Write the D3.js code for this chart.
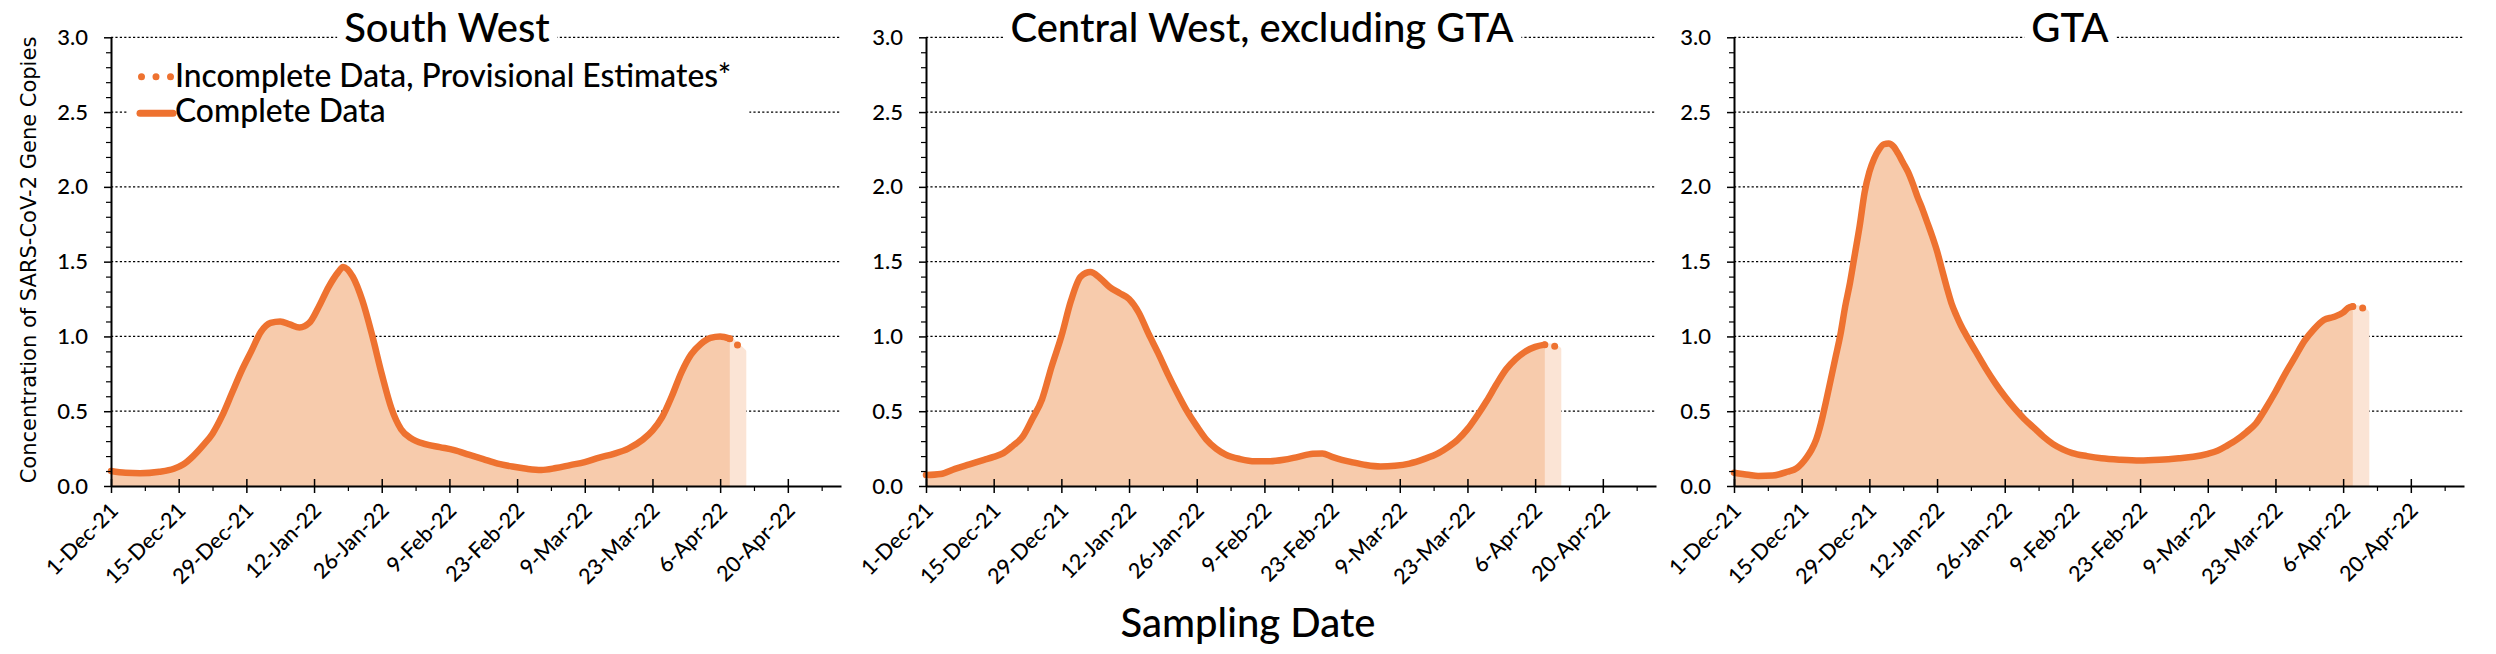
<!DOCTYPE html>
<html><head><meta charset="utf-8">
<script src="https://cdn.jsdelivr.net/npm/d3@7"></script>
<style>body{margin:0;background:#fff}</style>
</head><body>
<svg id="c" width="2496" height="654"></svg>
<script>
// ---------------- DATA ----------------
const regionNames = ["South West", "Central West, excluding GTA", "GTA"];
const xDomain = ["2021-12-01", "2022-05-01"];
const xTickLabels = ["1-Dec-21","15-Dec-21","29-Dec-21","12-Jan-22","26-Jan-22","9-Feb-22","23-Feb-22","9-Mar-22","23-Mar-22","6-Apr-22","20-Apr-22"];
const yTickLabels = ["0.0","0.5","1.0","1.5","2.0","2.5","3.0"];
const yMinorStep = 0.1;

const swDates = ["2021-12-01","2021-12-04","2021-12-07","2021-12-11","2021-12-14","2021-12-16","2021-12-18","2021-12-20","2021-12-22","2021-12-24","2021-12-26","2021-12-28","2021-12-30",
 "2022-01-01","2022-01-03","2022-01-05","2022-01-07","2022-01-09","2022-01-11","2022-01-13","2022-01-15","2022-01-17","2022-01-18","2022-01-20","2022-01-22","2022-01-24","2022-01-26","2022-01-28","2022-01-30",
 "2022-02-01","2022-02-04","2022-02-07","2022-02-10","2022-02-13","2022-02-16","2022-02-19","2022-02-22","2022-02-25","2022-02-28",
 "2022-03-03","2022-03-06","2022-03-09","2022-03-12","2022-03-15","2022-03-18","2022-03-21","2022-03-23","2022-03-25","2022-03-27","2022-03-29","2022-03-31",
 "2022-04-02","2022-04-04","2022-04-06","2022-04-08"];
const swValues = [0.10,0.088,0.085,0.095,0.115,0.145,0.20,0.27,0.35,0.47,0.62,0.77,0.90,
 1.03,1.09,1.10,1.08,1.06,1.09,1.20,1.33,1.43,1.465,1.40,1.24,1.01,0.75,0.52,0.38,
 0.32,0.28,0.26,0.24,0.21,0.18,0.15,0.13,0.115,0.107,
 0.12,0.14,0.16,0.19,0.215,0.25,0.31,0.37,0.46,0.60,0.76,0.88,
 0.95,0.99,1.00,0.985];

const cwDates = ["2021-12-01","2021-12-04","2021-12-07","2021-12-10","2021-12-13","2021-12-15","2021-12-17","2021-12-19","2021-12-21","2021-12-23","2021-12-25","2021-12-27","2021-12-29","2021-12-31",
 "2022-01-02","2022-01-04","2022-01-06","2022-01-08","2022-01-10","2022-01-12","2022-01-14","2022-01-16","2022-01-18","2022-01-20","2022-01-22","2022-01-24","2022-01-26","2022-01-28","2022-01-30",
 "2022-02-01","2022-02-04","2022-02-07","2022-02-10","2022-02-13","2022-02-16","2022-02-19","2022-02-21","2022-02-23","2022-02-25","2022-02-27",
 "2022-03-02","2022-03-05","2022-03-08","2022-03-11","2022-03-14","2022-03-17","2022-03-19","2022-03-21","2022-03-23","2022-03-25","2022-03-27","2022-03-29","2022-03-31",
 "2022-04-02","2022-04-04","2022-04-06","2022-04-08"];
const cwValues = [0.073,0.08,0.115,0.145,0.175,0.195,0.22,0.27,0.33,0.45,0.58,0.80,1.00,1.24,
 1.40,1.43,1.39,1.33,1.29,1.25,1.16,1.02,0.89,0.75,0.62,0.50,0.40,0.31,0.25,
 0.21,0.18,0.165,0.165,0.175,0.195,0.215,0.218,0.195,0.175,0.16,
 0.14,0.13,0.135,0.15,0.18,0.22,0.26,0.31,0.38,0.47,0.57,0.68,0.78,
 0.85,0.90,0.93,0.945];

const gtaDates = ["2021-12-01","2021-12-04","2021-12-06","2021-12-09","2021-12-12","2021-12-14","2021-12-16","2021-12-17","2021-12-18","2021-12-19","2021-12-20","2021-12-21","2021-12-22","2021-12-23","2021-12-24","2021-12-25","2021-12-26","2021-12-27","2021-12-28","2021-12-29","2021-12-30","2021-12-31",
 "2022-01-01","2022-01-02","2022-01-03","2022-01-04","2022-01-05","2022-01-06","2022-01-07","2022-01-08","2022-01-09","2022-01-10","2022-01-11","2022-01-12","2022-01-13","2022-01-14","2022-01-15","2022-01-16","2022-01-17","2022-01-18","2022-01-20","2022-01-22","2022-01-24","2022-01-26","2022-01-28","2022-01-30",
 "2022-02-01","2022-02-03","2022-02-05","2022-02-07","2022-02-09","2022-02-12","2022-02-15","2022-02-19","2022-02-23","2022-02-27",
 "2022-03-03","2022-03-06","2022-03-09","2022-03-11","2022-03-13","2022-03-15","2022-03-17","2022-03-19","2022-03-21","2022-03-23","2022-03-25","2022-03-27","2022-03-29","2022-03-31",
 "2022-04-02","2022-04-04","2022-04-06","2022-04-07","2022-04-08"];
const gtaValues = [0.089,0.075,0.067,0.07,0.095,0.12,0.19,0.24,0.31,0.42,0.56,0.71,0.86,1.01,1.20,1.36,1.55,1.74,1.96,2.10,2.19,2.25,
 2.285,2.29,2.27,2.22,2.16,2.10,2.02,1.93,1.85,1.76,1.67,1.57,1.45,1.33,1.22,1.14,1.07,1.01,0.90,0.79,0.69,0.60,0.52,0.45,
 0.39,0.33,0.28,0.245,0.22,0.20,0.185,0.175,0.17,0.175,
 0.185,0.195,0.215,0.235,0.27,0.31,0.36,0.42,0.52,0.63,0.75,0.86,0.97,1.05,
 1.11,1.13,1.16,1.19,1.20];

const incDates = ["2022-04-08","2022-04-09","2022-04-10","2022-04-11"];
const swInc = [0.985,0.96,0.93,0.90];
const cwInc = [0.945,0.94,0.935,0.915];
const gtaInc = [1.20,1.195,1.19,1.16];

const legendLabels = ["Incomplete Data, Provisional Estimates*", "Complete Data"];
const yAxisTitle = "Concentration of SARS-CoV-2 Gene Copies";
const xAxisTitle = "Sampling Date";

// ---------------- DRAWING ----------------
const parse = d3.timeParse("%Y-%m-%d");
const tickParse = d3.timeParse("%d-%b-%y");
const svg = d3.select("#c");
svg.append("rect").attr("width", 2496).attr("height", 654).attr("fill", "#fff");

const FONT = "Lato, Carlito, sans-serif";
const LINE = "#EE7230", FILL = "#F7CBAC", LIGHT = "#FBE4D5";
const panelLeft = [111, 926, 1734];
const plotW = 730, yTop = 37.3, yBot = 486;

const regions = [
  {name: regionNames[0], dates: swDates, values: swValues, inc: swInc},
  {name: regionNames[1], dates: cwDates, values: cwValues, inc: cwInc},
  {name: regionNames[2], dates: gtaDates, values: gtaValues, inc: gtaInc}
];

const yMajor = yTickLabels.map(Number);
const yMinor = d3.range(0, 3.0001, yMinorStep).filter(v => Math.abs(v*2 - Math.round(v*2)) > 1e-6);
const majorDates = xTickLabels.map(tickParse);
const minorDates = majorDates.map(d => d3.timeDay.offset(d, 7));

regions.forEach((r, i) => {
  const L = panelLeft[i];
  const x = d3.scaleTime().domain(xDomain.map(parse)).range([L, L + plotW]);
  const y = d3.scaleLinear().domain([0, 3]).range([yBot, yTop]);
  const g = svg.append("g");

  const clipId = "clip" + i;
  svg.append("clipPath").attr("id", clipId).append("rect")
    .attr("x", L - 20).attr("y", 0).attr("width", plotW + 40).attr("height", yBot);

  // gridlines
  g.selectAll("line.grid").data(yMajor.filter(v => v > 0)).join("line")
    .attr("class", "grid")
    .attr("x1", L).attr("x2", L + plotW)
    .attr("y1", d => y(d)).attr("y2", d => y(d))
    .attr("stroke", "#000").attr("stroke-width", 1.2).attr("stroke-dasharray", "2.2,2.2");

  const comp = r.dates.map((d, k) => ({date: parse(d), v: r.values[k]}));
  const inc = incDates.map((d, k) => ({date: parse(d), v: r.inc[k]}));

  const area = d3.area().x(d => x(d.date)).y0(y(0)).y1(d => y(d.v)).curve(d3.curveMonotoneX);
  const line = d3.line().x(d => x(d.date)).y(d => y(d.v)).curve(d3.curveMonotoneX);

  const pg = g.append("g").attr("clip-path", `url(#${clipId})`);
  pg.append("path").datum(inc).attr("d", area)
    .attr("fill", LIGHT).attr("stroke", LIGHT).attr("stroke-width", 4).attr("stroke-linejoin", "round");
  pg.append("path").datum(comp).attr("d", area).attr("fill", FILL);

  g.append("path").datum(comp).attr("d", line)
    .attr("fill", "none").attr("stroke", LINE).attr("stroke-width", 6.5)
    .attr("stroke-linecap", "round").attr("stroke-linejoin", "round");
  g.append("path").datum(inc).attr("d", line)
    .attr("fill", "none").attr("stroke", LINE).attr("stroke-width", 7)
    .attr("stroke-linecap", "round").attr("stroke-dasharray", "0 10");

  // y axis
  const ya = g.append("g").attr("transform", `translate(${L},0)`)
    .call(d3.axisLeft(y).tickValues(yMajor).tickSize(7).tickSizeOuter(0).tickPadding(16).tickFormat(d3.format(".1f")));
  ya.select(".domain").attr("stroke", "#000").attr("stroke-width", 2);
  ya.selectAll(".tick line").attr("stroke", "#000").attr("stroke-width", 1.5);
  ya.selectAll(".tick text").attr("font-family", FONT).attr("font-size", 22).attr("font-weight", 500).attr("fill", "#000");
  const yam = g.append("g").attr("transform", `translate(${L},0)`)
    .call(d3.axisLeft(y).tickValues(yMinor).tickSize(5).tickFormat(""));
  yam.select(".domain").remove();
  yam.selectAll(".tick line").attr("stroke", "#000").attr("stroke-width", 1.2);

  // x axis
  const xa = g.append("g").attr("transform", `translate(0,${yBot})`)
    .call(d3.axisBottom(x).tickValues(majorDates).tickSize(7).tickSizeOuter(0).tickFormat(d3.timeFormat("%-d-%b-%y")));
  xa.select(".domain").attr("stroke", "#000").attr("stroke-width", 2);
  xa.selectAll(".tick line").attr("y1", -7).attr("y2", 7).attr("stroke", "#000").attr("stroke-width", 1.5);
  xa.selectAll(".tick text")
    .attr("font-family", FONT).attr("font-size", 21.5).attr("font-weight", 500).attr("fill", "#000")
    .attr("text-anchor", "end").attr("x", 0).attr("y", 0).attr("dy", 0)
    .attr("transform", "translate(8,26) rotate(-45)");
  const xam = g.append("g").attr("transform", `translate(0,${yBot})`)
    .call(d3.axisBottom(x).tickValues(minorDates).tickSize(5).tickFormat(""));
  xam.select(".domain").remove();
  xam.selectAll(".tick line").attr("stroke", "#000").attr("stroke-width", 1.2);

  // title with white background
  const tg = g.append("g");
  const tt = tg.append("text").attr("x", L + plotW / 2 - 29).attr("y", 42)
    .attr("text-anchor", "middle").attr("font-family", FONT).attr("font-size", 40).attr("font-weight", 500)
    .attr("fill", "#000").text(r.name);
  const bb = tt.node().getBBox();
  tg.insert("rect", "text").attr("x", bb.x - 7).attr("y", bb.y).attr("width", bb.width + 14)
    .attr("height", bb.height).attr("fill", "#fff");
});

// legend (first panel)
const lg = svg.append("g");
lg.append("line").attr("x1", 141.5).attr("x2", 171.5).attr("y1", 76.7).attr("y2", 76.7)
  .attr("stroke", LINE).attr("stroke-width", 7).attr("stroke-linecap", "round").attr("stroke-dasharray", "0 14.5");
lg.append("text").attr("x", 175).attr("y", 87).attr("font-family", FONT).attr("font-size", 31.8).attr("font-weight", 500).attr("fill", "#000").text(legendLabels[0]);
lg.append("line").attr("x1", 140).attr("x2", 173).attr("y1", 113.3).attr("y2", 113.3)
  .attr("stroke", LINE).attr("stroke-width", 7).attr("stroke-linecap", "round");
lg.append("text").attr("x", 175).attr("y", 122).attr("font-family", FONT).attr("font-size", 31.8).attr("font-weight", 500).attr("fill", "#000").text(legendLabels[1]);
const lb = lg.node().getBBox();
lg.insert("rect", ":first-child").attr("x", lb.x - 12).attr("y", lb.y - 4).attr("width", lb.width + 30).attr("height", lb.height + 10).attr("fill", "#fff");

// axis titles
svg.append("text").attr("transform", "translate(36,260) rotate(-90)").attr("text-anchor", "middle")
  .attr("font-family", "'DejaVu Sans', Verdana, sans-serif").attr("font-size", 21).attr("fill", "#000").text(yAxisTitle);
svg.append("text").attr("x", 1248).attr("y", 637).attr("text-anchor", "middle")
  .attr("font-family", FONT).attr("font-size", 40).attr("font-weight", 500).attr("fill", "#000").text(xAxisTitle);
</script>
</body></html>
